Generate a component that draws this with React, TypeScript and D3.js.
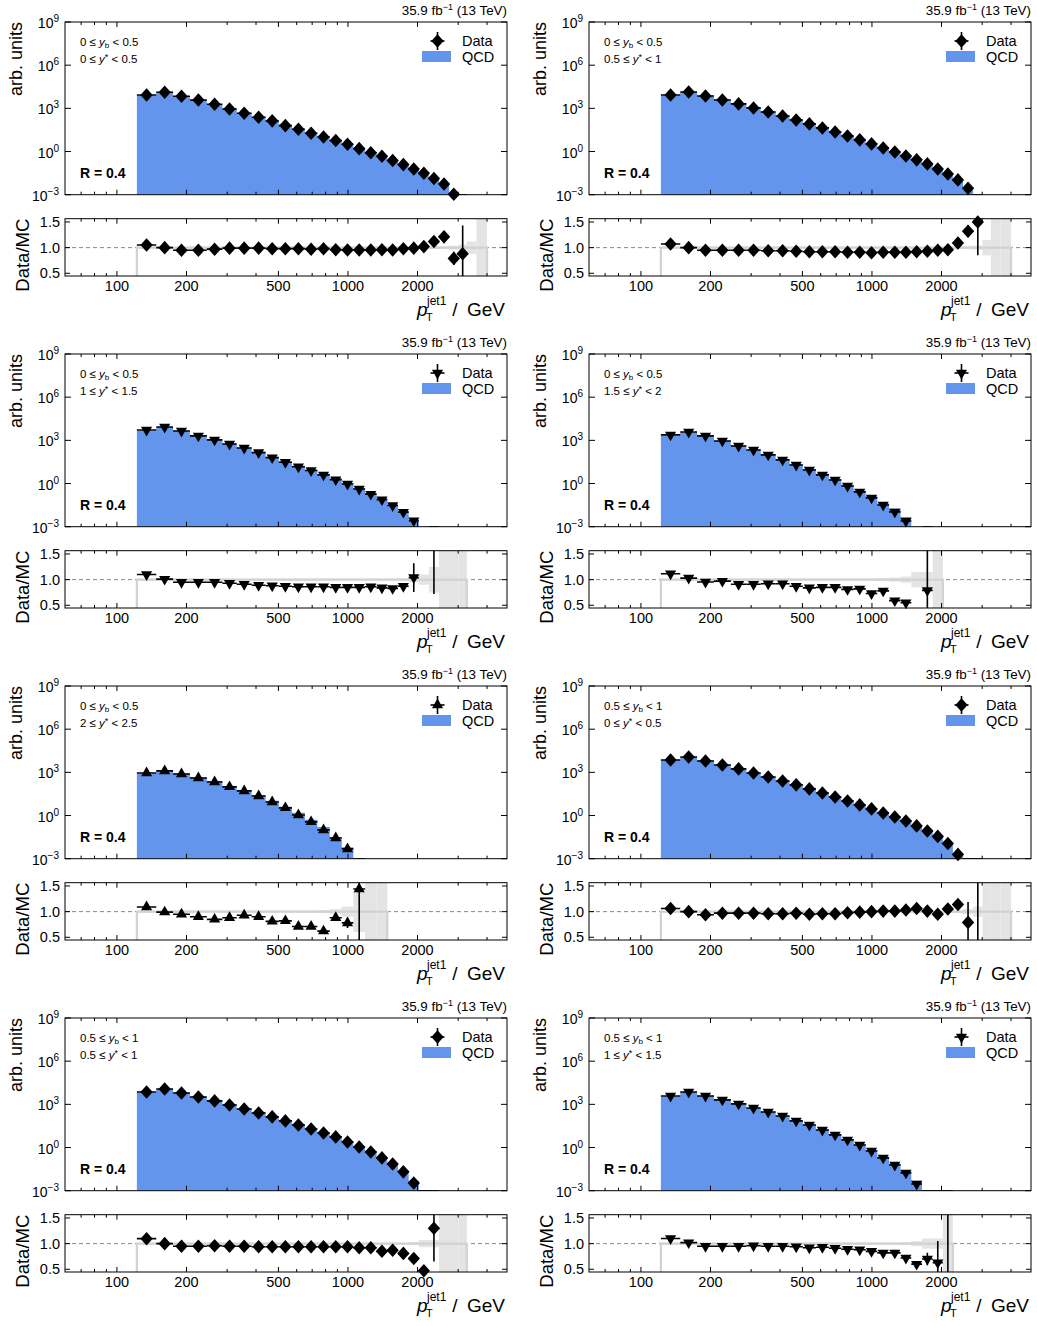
import React from "react";
import * as d3 from "d3";

// ---------- shared binning / axes ----------
const EDGES = [122, 148, 175, 207, 245, 286, 330, 383, 440, 502, 572, 651, 737, 834, 940, 1055, 1186, 1330, 1480, 1647, 1832, 2027, 2240, 2478, 2740, 3010, 3270, 3600, 4000];
const X_TICKS = [70, 80, 90, 100, 200, 300, 400, 500, 600, 700, 800, 900, 1000, 2000, 3000, 4000];
const X_LABELS = [100, 200, 500, 1000, 2000];
const Y_EXPONENTS = [-3, 0, 3, 6, 9];
const RATIO_TICKS = [0.5, 1.0, 1.5];

// ---------- panel data (log10 of data yield, data/MC ratio, ratio error, MC band half-width) ----------
const p1DataLog10 = [3.93, 4.12, 3.84, 3.58, 3.28, 2.96, 2.66, 2.38, 2.13, 1.80, 1.55, 1.27, 1.01, 0.76, 0.51, 0.20, -0.08, -0.33, -0.63, -0.91, -1.21, -1.51, -1.88, -2.25, -2.97, -3.6];
const p1Ratio = [1.05, 1.0, 0.95, 0.95, 0.97, 0.99, 0.99, 0.99, 0.98, 0.98, 0.98, 0.97, 0.98, 0.96, 0.955, 0.955, 0.955, 0.96, 0.955, 0.98, 0.99, 1.02, 1.12, 1.21, 0.79, 0.88];
const p1Err = [0.01, 0.01, 0.01, 0.01, 0.01, 0.01, 0.01, 0.01, 0.01, 0.01, 0.01, 0.01, 0.01, 0.01, 0.01, 0.01, 0.01, 0.01, 0.01, 0.01, 0.01, 0.015, 0.02, 0.03, 0.13, 0.55];
const p1Unc = [0.02, 0.02, 0.02, 0.02, 0.02, 0.02, 0.02, 0.02, 0.02, 0.02, 0.02, 0.02, 0.02, 0.02, 0.02, 0.02, 0.02, 0.02, 0.02, 0.02, 0.02, 0.02, 0.025, 0.03, 0.04, 0.06, 0.12, 1];

const p2DataLog10 = [3.93, 4.14, 3.86, 3.58, 3.31, 3.03, 2.75, 2.47, 2.19, 1.92, 1.64, 1.36, 1.08, 0.81, 0.53, 0.25, -0.03, -0.31, -0.58, -0.86, -1.21, -1.56, -1.97, -2.55, -3.3];
const p2Ratio = [1.07, 1.0, 0.95, 0.95, 0.95, 0.95, 0.94, 0.94, 0.93, 0.92, 0.92, 0.92, 0.91, 0.91, 0.90, 0.91, 0.91, 0.91, 0.92, 0.93, 0.95, 0.96, 1.09, 1.32, 1.50];
const p2Err = [0.01, 0.01, 0.01, 0.01, 0.01, 0.01, 0.01, 0.01, 0.01, 0.01, 0.01, 0.01, 0.01, 0.01, 0.01, 0.01, 0.01, 0.01, 0.01, 0.01, 0.01, 0.02, 0.03, 0.12, 0.65];
const p2Unc = [0.02, 0.02, 0.02, 0.02, 0.02, 0.02, 0.02, 0.02, 0.02, 0.02, 0.02, 0.02, 0.02, 0.02, 0.02, 0.02, 0.02, 0.02, 0.02, 0.02, 0.02, 0.02, 0.02, 0.03, 0.04, 0.15, 1, 1];

const p3DataLog10 = [3.72, 3.93, 3.65, 3.31, 3.03, 2.75, 2.47, 2.15, 1.80, 1.48, 1.17, 0.90, 0.60, 0.27, -0.03, -0.38, -0.74, -1.12, -1.53, -1.99, -2.58, null, -3.6];
const p3Ratio = [1.10, 1.01, 0.95, 0.95, 0.95, 0.93, 0.91, 0.89, 0.88, 0.87, 0.86, 0.86, 0.86, 0.85, 0.85, 0.85, 0.86, 0.84, 0.83, 0.87, 1.04, null, 2.1];
const p3Err = [0.01, 0.01, 0.01, 0.01, 0.01, 0.01, 0.01, 0.01, 0.01, 0.01, 0.01, 0.01, 0.01, 0.01, 0.01, 0.01, 0.02, 0.02, 0.02, 0.04, 0.28, null, 1.38];
const p3Unc = [0.02, 0.02, 0.02, 0.02, 0.02, 0.02, 0.02, 0.02, 0.02, 0.02, 0.02, 0.02, 0.02, 0.02, 0.02, 0.02, 0.02, 0.02, 0.02, 0.03, 0.05, 0.1, 0.25, 1, 1, 1];

const p4DataLog10 = [3.38, 3.58, 3.31, 2.96, 2.61, 2.33, 1.99, 1.64, 1.29, 0.94, 0.60, 0.25, -0.17, -0.58, -1.0, -1.49, -1.97, -2.6, null, -3.6];
const p4Ratio = [1.115, 1.03, 0.955, 0.97, 0.91, 0.91, 0.92, 0.92, 0.87, 0.84, 0.85, 0.85, 0.81, 0.82, 0.73, 0.78, 0.59, 0.55, null, 0.79];
const p4Err = [0.01, 0.01, 0.01, 0.01, 0.01, 0.01, 0.01, 0.01, 0.01, 0.01, 0.01, 0.01, 0.01, 0.02, 0.02, 0.03, 0.05, 0.05, null, 1.2];
const p4Unc = [0.02, 0.02, 0.02, 0.02, 0.02, 0.02, 0.02, 0.02, 0.02, 0.02, 0.02, 0.02, 0.02, 0.02, 0.02, 0.03, 0.04, 0.06, 0.15, 0.15, 1];

const p5DataLog10 = [2.96, 3.10, 2.89, 2.61, 2.33, 1.99, 1.71, 1.36, 0.94, 0.53, 0.04, -0.44, -1.0, -1.56, -2.32, -3.6];
const p5Ratio = [1.09, 0.99, 0.95, 0.90, 0.85, 0.88, 0.93, 0.90, 0.81, 0.82, 0.71, 0.71, 0.62, 0.88, 0.78, 1.44];
const p5Err = [0.01, 0.01, 0.01, 0.01, 0.01, 0.01, 0.01, 0.01, 0.01, 0.01, 0.02, 0.02, 0.03, 0.04, 0.1, 1.1];
const p5Unc = [0.02, 0.02, 0.02, 0.02, 0.02, 0.02, 0.02, 0.02, 0.02, 0.02, 0.02, 0.02, 0.03, 0.05, 0.1, 0.4, 1, 1];

const p6DataLog10 = [3.86, 4.07, 3.79, 3.51, 3.24, 2.96, 2.68, 2.40, 2.13, 1.85, 1.57, 1.29, 1.01, 0.74, 0.46, 0.18, -0.10, -0.38, -0.72, -1.07, -1.45, -1.95, -2.7, -3.4, -3.8];
const p6Ratio = [1.06, 1.0, 0.94, 0.97, 0.97, 0.97, 0.96, 0.96, 0.97, 0.95, 0.96, 0.96, 0.98, 0.99, 1.0, 1.01, 1.01, 1.03, 1.06, 1.01, 0.95, 1.05, 1.14, 0.79, 3.0];
const p6Err = [0.01, 0.01, 0.01, 0.01, 0.01, 0.01, 0.01, 0.01, 0.01, 0.01, 0.01, 0.01, 0.01, 0.01, 0.01, 0.01, 0.01, 0.01, 0.01, 0.02, 0.02, 0.03, 0.1, 0.4, 3.0];
const p6Unc = [0.02, 0.02, 0.02, 0.02, 0.02, 0.02, 0.02, 0.02, 0.02, 0.02, 0.02, 0.02, 0.02, 0.02, 0.02, 0.02, 0.02, 0.02, 0.02, 0.02, 0.02, 0.02, 0.03, 0.05, 0.1, 1, 1, 1];

const p7DataLog10 = [3.86, 4.07, 3.79, 3.51, 3.24, 2.96, 2.68, 2.40, 2.13, 1.85, 1.57, 1.29, 1.01, 0.74, 0.39, 0.04, -0.31, -0.72, -1.14, -1.69, -2.46, -3.3, -3.6];
const p7Ratio = [1.097, 1.0, 0.95, 0.95, 0.96, 0.95, 0.95, 0.94, 0.94, 0.94, 0.94, 0.94, 0.94, 0.94, 0.94, 0.92, 0.92, 0.85, 0.87, 0.81, 0.71, 0.47, 1.30];
const p7Err = [0.01, 0.01, 0.01, 0.01, 0.01, 0.01, 0.01, 0.01, 0.01, 0.01, 0.01, 0.01, 0.01, 0.01, 0.01, 0.01, 0.01, 0.02, 0.02, 0.02, 0.03, 0.05, 0.65];
const p7Unc = [0.02, 0.02, 0.02, 0.02, 0.02, 0.02, 0.02, 0.02, 0.02, 0.02, 0.02, 0.02, 0.02, 0.02, 0.02, 0.02, 0.02, 0.02, 0.02, 0.02, 0.03, 0.07, 0.07, 1, 1, 1];

const p8DataLog10 = [3.58, 3.86, 3.58, 3.31, 3.03, 2.75, 2.47, 2.19, 1.85, 1.57, 1.22, 0.88, 0.53, 0.18, -0.24, -0.72, -1.21, -1.76, -2.53, -3.3, -3.5, -3.8];
const p8Ratio = [1.10, 1.02, 0.95, 0.95, 0.95, 0.96, 0.95, 0.95, 0.94, 0.92, 0.93, 0.91, 0.89, 0.88, 0.85, 0.82, 0.82, 0.72, 0.60, 0.70, 0.63, 3.0];
const p8Err = [0.01, 0.01, 0.01, 0.01, 0.01, 0.01, 0.01, 0.01, 0.01, 0.01, 0.01, 0.01, 0.01, 0.01, 0.02, 0.02, 0.02, 0.03, 0.04, 0.12, 0.42, 3.0];
const p8Unc = [0.02, 0.02, 0.02, 0.02, 0.02, 0.02, 0.02, 0.02, 0.02, 0.02, 0.02, 0.02, 0.02, 0.02, 0.02, 0.02, 0.02, 0.03, 0.05, 0.1, 0.1, 1];

const PANELS = [
  { yb: ["0", "0.5"], ys: ["0", "0.5"], marker: "diamond", data: p1DataLog10, ratio: p1Ratio, err: p1Err, unc: p1Unc },
  { yb: ["0", "0.5"], ys: ["0.5", "1"], marker: "diamond", data: p2DataLog10, ratio: p2Ratio, err: p2Err, unc: p2Unc },
  { yb: ["0", "0.5"], ys: ["1", "1.5"], marker: "tdown", data: p3DataLog10, ratio: p3Ratio, err: p3Err, unc: p3Unc },
  { yb: ["0", "0.5"], ys: ["1.5", "2"], marker: "tdown", data: p4DataLog10, ratio: p4Ratio, err: p4Err, unc: p4Unc },
  { yb: ["0", "0.5"], ys: ["2", "2.5"], marker: "tup", data: p5DataLog10, ratio: p5Ratio, err: p5Err, unc: p5Unc },
  { yb: ["0.5", "1"], ys: ["0", "0.5"], marker: "diamond", data: p6DataLog10, ratio: p6Ratio, err: p6Err, unc: p6Unc },
  { yb: ["0.5", "1"], ys: ["0.5", "1"], marker: "diamond", data: p7DataLog10, ratio: p7Ratio, err: p7Err, unc: p7Unc },
  { yb: ["0.5", "1"], ys: ["1", "1.5"], marker: "tdown", data: p8DataLog10, ratio: p8Ratio, err: p8Err, unc: p8Unc },
];

// ---------- layout ----------
const FONT = "'Liberation Sans', Arial, Helvetica, sans-serif";
const COL_X = [65, 589];
const ROW_STEP = 332;
const W = 442;
const TOP_Y = 22;
const TOP_H = 172.7;
const R_Y = 218.7;
const R_H = 57.3;
const BLUE = "#6495ed";

const xScale = d3.scaleLog().domain([59.6, 4880]).range([0, W]);
const yTop = d3.scaleLog().domain([1e-3, 1e9]).range([TOP_H, 0]).clamp(true);
const yRat = d3.scaleLinear().domain([0.447, 1.564]).range([R_H, 0]);

function markerPath(type: string): string {
  if (type === "diamond") return d3.symbol(d3.symbolSquare, 76)() as string;
  return d3.symbol(d3.symbolTriangle, 54)() as string;
}

function Marker({ type, x, y }: { type: string; x: number; y: number }) {
  if (type === "diamond") {
    return (
      <g transform={`translate(${x},${y}) scale(1,1.1)`}>
        <path d={markerPath(type)} transform="rotate(45)" fill="#000" />
      </g>
    );
  }
  const t = type === "tdown" ? `translate(${x},${y}) rotate(180)` : `translate(${x},${y})`;
  return <path d={markerPath(type)} transform={t} fill="#000" />;
}

function Panel({ idx }: { idx: number }) {
  const p = PANELS[idx];
  const col = idx % 2;
  const row = Math.floor(idx / 2);
  const gx = COL_X[col];
  const gy = row * ROW_STEP;
  const clipTop = `clipTop${idx}`;
  const clipRat = `clipRat${idx}`;

  const nData = p.data.length;
  const nMC = p.unc.length;
  // MC yield per bin = data / (data/MC)
  const mc: number[] = d3.range(nMC).map((i) => {
    const d = i < nData ? p.data[i] : null;
    const r = i < nData ? p.ratio[i] : null;
    if (d == null || r == null) return 1e-9;
    return Math.pow(10, d) / r;
  });

  const histPts: [number, number][] = d3.range(nMC).map((i) => [EDGES[i], mc[i]] as [number, number]);
  histPts.push([EDGES[nMC], mc[nMC - 1]]);
  const area = d3
    .area<[number, number]>()
    .x((d) => xScale(d[0]))
    .y0(TOP_H)
    .y1((d) => yTop(Math.max(d[1], 1e-3)))
    .curve(d3.curveStepAfter);

  const mcLine = d3.line<[number, number]>().x((d) => d[0]).y((d) => d[1]);
  const mcLinePts: [number, number][] = [
    [xScale(EDGES[0]), R_H + 2],
    [xScale(EDGES[0]), yRat(1)],
    [xScale(EDGES[nMC]), yRat(1)],
    [xScale(EDGES[nMC]), R_H + 2],
  ];

  const tickLen = (v: number) => (X_LABELS.includes(v) ? 5 : 3);

  const xTicks = (h: number) =>
    X_TICKS.map((t) => (
      <g key={t}>
        <line x1={xScale(t)} x2={xScale(t)} y1={h} y2={h - tickLen(t)} stroke="#000" strokeWidth={1} />
        <line x1={xScale(t)} x2={xScale(t)} y1={0} y2={tickLen(t)} stroke="#000" strokeWidth={1} />
      </g>
    ));

  const legendX = 372.5;

  return (
    <g transform={`translate(${gx},${gy})`} fontFamily={FONT}>
      <defs>
        <clipPath id={clipTop}>
          <rect x={0} y={0} width={W} height={TOP_H} />
        </clipPath>
        <clipPath id={clipRat}>
          <rect x={0} y={0} width={W} height={R_H} />
        </clipPath>
      </defs>

      {/* luminosity label */}
      <text x={W} y={14.5} textAnchor="end" fontSize={13.4}>
        35.9 fb<tspan dy={-5} fontSize={9}>−1</tspan>
        <tspan dy={5}> (13 TeV)</tspan>
      </text>

      {/* y titles */}
      <text transform={`translate(-43.5,${TOP_Y}) rotate(-90)`} textAnchor="end" fontSize={18}>
        arb. units
      </text>
      <text transform={`translate(-36,${R_Y}) rotate(-90)`} textAnchor="end" fontSize={18.5}>
        Data/MC
      </text>

      {/* ---------- top plot ---------- */}
      <g transform={`translate(0,${TOP_Y})`}>
        <path d={area(histPts) || ""} fill={BLUE} clipPath={`url(#${clipTop})`} />
        <g clipPath={`url(#${clipTop})`}>
          {p.data.map((d, i) => {
            const r = p.ratio[i];
            const e = p.err[i];
            if (d == null || r == null || e == null) return null;
            const v = Math.pow(10, d);
            const rel = e / r;
            const lo = rel >= 1 ? 1e-3 : v * (1 - rel);
            const hi = v * (1 + rel);
            const cx = xScale(Math.sqrt(EDGES[i] * EDGES[i + 1]));
            return (
              <g key={i}>
                <line x1={xScale(EDGES[i])} x2={xScale(EDGES[i + 1])} y1={yTop(v)} y2={yTop(v)} stroke="#000" strokeWidth={1.6} />
                <line x1={cx} x2={cx} y1={yTop(lo)} y2={yTop(hi)} stroke="#000" strokeWidth={1.6} />
              </g>
            );
          })}
        </g>
        {p.data.map((d, i) => {
          if (d == null) return null;
          const v = Math.pow(10, d);
          if (v < 1e-3 * 0.8) return null;
          const cx = xScale(Math.sqrt(EDGES[i] * EDGES[i + 1]));
          return <Marker key={i} type={p.marker} x={cx} y={yTop(v)} />;
        })}
        <rect x={0} y={0} width={W} height={TOP_H} fill="none" stroke="#000" strokeWidth={1} />
        {xTicks(TOP_H)}
        {Y_EXPONENTS.map((e) => (
          <g key={e}>
            <line x1={0} x2={6} y1={yTop(Math.pow(10, e))} y2={yTop(Math.pow(10, e))} stroke="#000" />
            <line x1={W} x2={W - 6} y1={yTop(Math.pow(10, e))} y2={yTop(Math.pow(10, e))} stroke="#000" />
            <text x={-6} y={yTop(Math.pow(10, e)) + 6} textAnchor="end" fontSize={14}>
              10<tspan dy={-6} fontSize={10}>{e < 0 ? `−${-e}` : `${e}`}</tspan>
            </text>
          </g>
        ))}
        {/* region labels */}
        <text x={15} y={23.5} fontSize={11.5}>
          {p.yb[0]} ≤ <tspan fontStyle="italic">y</tspan>
          <tspan fontSize={8} dy={2}>b</tspan>
          <tspan dy={-2}> &lt; {p.yb[1]}</tspan>
        </text>
        <text x={15} y={41} fontSize={11.5}>
          {p.ys[0]} ≤ <tspan fontStyle="italic">y</tspan>
          <tspan fontSize={9} dy={-3}>*</tspan>
          <tspan dy={3}> &lt; {p.ys[1]}</tspan>
        </text>
        <text x={15} y={156} fontSize={14} fontWeight="bold">
          R = 0.4
        </text>
        {/* legend */}
        <line x1={legendX} x2={legendX} y1={10} y2={28} stroke="#000" strokeWidth={1.6} />
        <line x1={legendX - 7} x2={legendX + 7} y1={19} y2={19} stroke="#000" strokeWidth={1.6} />
        <Marker type={p.marker} x={legendX} y={19} />
        <text x={397} y={24} fontSize={14.5}>
          Data
        </text>
        <rect x={357} y={29} width={29} height={11} fill={BLUE} />
        <text x={397} y={39.5} fontSize={14.5}>
          QCD
        </text>
      </g>

      {/* ---------- ratio plot ---------- */}
      <g transform={`translate(0,${R_Y})`}>
        <g clipPath={`url(#${clipRat})`}>
          {p.unc.map((u, i) => (
            <rect
              key={i}
              x={xScale(EDGES[i])}
              width={xScale(EDGES[i + 1]) - xScale(EDGES[i])}
              y={yRat(1 + u)}
              height={yRat(1 - u) - yRat(1 + u)}
              fill="#e4e4e4"
            />
          ))}
          <line x1={0} x2={W} y1={yRat(1)} y2={yRat(1)} stroke="#888" strokeWidth={1} strokeDasharray="4,3" />
          <path d={mcLine(mcLinePts) || ""} fill="none" stroke="#d2d2d2" strokeWidth={2.2} />
          {p.ratio.map((r, i) => {
            const e = p.err[i];
            if (r == null || e == null) return null;
            const cx = xScale(Math.sqrt(EDGES[i] * EDGES[i + 1]));
            return (
              <g key={i}>
                <line x1={xScale(EDGES[i])} x2={xScale(EDGES[i + 1])} y1={yRat(r)} y2={yRat(r)} stroke="#000" strokeWidth={1.6} />
                <line x1={cx} x2={cx} y1={yRat(r - e)} y2={yRat(r + e)} stroke="#000" strokeWidth={1.6} />
              </g>
            );
          })}
        </g>
        {p.ratio.map((r, i) => {
          if (r == null) return null;
          const y = yRat(r);
          if (y < -4 || y > R_H + 4) return null;
          const cx = xScale(Math.sqrt(EDGES[i] * EDGES[i + 1]));
          return <Marker key={i} type={p.marker} x={cx} y={y} />;
        })}
        <rect x={0} y={0} width={W} height={R_H} fill="none" stroke="#000" strokeWidth={1} />
        {xTicks(R_H)}
        {RATIO_TICKS.map((t) => (
          <g key={t}>
            <line x1={0} x2={5} y1={yRat(t)} y2={yRat(t)} stroke="#000" />
            <line x1={W} x2={W - 5} y1={yRat(t)} y2={yRat(t)} stroke="#000" />
            <text x={-5} y={yRat(t) + 5} textAnchor="end" fontSize={14.5}>
              {d3.format(".1f")(t)}
            </text>
          </g>
        ))}
        {X_LABELS.map((t) => (
          <text key={t} x={xScale(t)} y={R_H + 15} textAnchor="middle" fontSize={14.5}>
            {t}
          </text>
        ))}
      </g>

      {/* x title */}
      <g fontSize={19}>
        <text x={W - 2} y={316} textAnchor="end">
          GeV
        </text>
        <text x={390} y={316} textAnchor="middle">
          /
        </text>
        <text x={352} y={316} fontStyle="italic">
          p
        </text>
        <text x={361} y={321} fontSize={11}>
          T
        </text>
        <text x={362} y={305} fontSize={12}>
          jet1
        </text>
      </g>
    </g>
  );
}

export default function App() {
  return (
    <svg
      width={1037}
      height={1326}
      style={{ position: "absolute", left: 0, top: 0, background: "#fff" }}
      xmlns="http://www.w3.org/2000/svg"
    >
      <rect width={1037} height={1326} fill="#fff" />
      {PANELS.map((_, i) => (
        <Panel key={i} idx={i} />
      ))}
    </svg>
  );
}
